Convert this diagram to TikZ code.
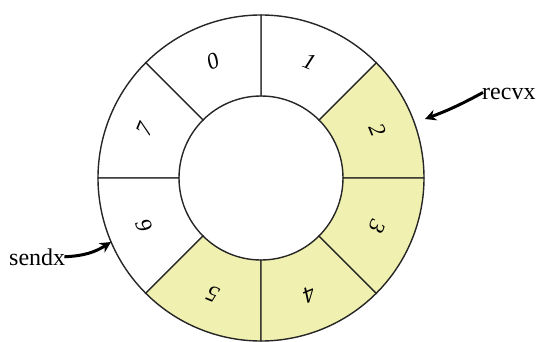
\documentclass[tikz,border=0pt]{standalone}
\usepackage{fontspec}
\setmainfont{Liberation Serif}
\usetikzlibrary{arrows.meta,calc}
\definecolor{segfill}{RGB}{240,240,176}
\tikzset{
  ring/.style={draw=black!85, line width=1.4pt},
  digit/.style={font=\fontsize{23}{23}\selectfont\itshape, inner sep=0pt},
  tag/.style={font=\fontsize{24}{24}\selectfont, inner sep=0pt},
  pointer/.style={-{Stealth[length=11pt,width=11pt]}, line width=3pt, black}
}
\begin{document}
\begin{tikzpicture}[x=1pt,y=1pt]
\useasboundingbox (0,0) rectangle (538,341);
\coordinate (c) at (261,163);
\def\Ro{163}
\def\Ri{82}
% segments
\foreach \a/\f in {0/segfill,45/white,90/white,135/white,180/white,225/segfill,270/segfill,315/segfill}{
  \pgfmathsetmacro{\b}{\a+45}
  \path[ring, fill=\f] ($(c)+(\a:\Ro)$) arc[start angle=\a, end angle=\b, radius=\Ro]
     -- ($(c)+(\b:\Ri)$) arc[start angle=\b, end angle=\a, radius=\Ri] -- cycle;
}
% labels
\foreach \i/\ang in {0/112.5,1/67.5,2/22.5,3/-22.5,4/-67.5,5/-112.5,6/-157.5,7/157.5}{
  \pgfmathsetmacro{\rot}{\ang-90}
  \node[digit, rotate=\rot] (s\i) at ($(c)+(\ang:126)$) {\i};
}
% pointers
\node[tag, anchor=base west] (recv) at (482,242) {recvx};
\coordinate (recvtip) at (425,222);
\draw[pointer] ([xshift=1pt,yshift=1pt]recv.west) to[bend left=4] (recvtip);
\node[tag, anchor=base west] (send) at (9,76) {sendx};
\coordinate (sendtip) at (111,99);
\draw[pointer] ([xshift=-1pt,yshift=0pt]send.east) to[bend right=15] (sendtip);
\end{tikzpicture}
\end{document}
